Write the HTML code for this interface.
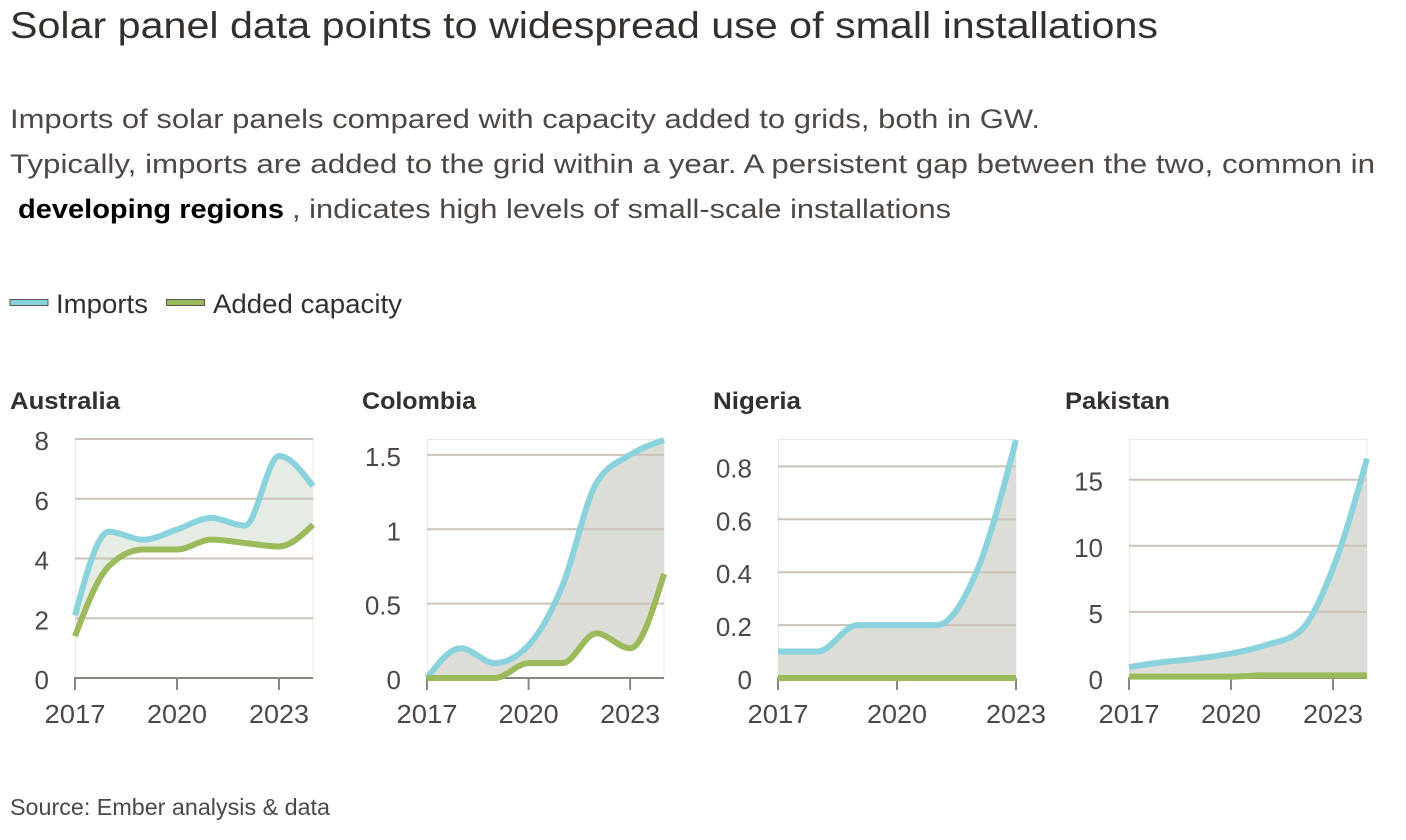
<!DOCTYPE html>
<html><head><meta charset="utf-8"><style>
html,body{margin:0;padding:0;background:#fff;}
svg{display:block;font-family:"Liberation Sans",Arial,sans-serif;}
</style></head><body>
<svg id="s" width="1406" height="840" viewBox="0 0 1406 840" xmlns="http://www.w3.org/2000/svg">
<rect width="1406" height="840" fill="#fff"/>
<text x="10" y="38" font-size="37" fill="#33302e" textLength="1148" lengthAdjust="spacingAndGlyphs">Solar panel data points to widespread use of small installations</text>
<text x="10" y="128" font-size="27" fill="#4d4845" textLength="1030" lengthAdjust="spacingAndGlyphs">Imports of solar panels compared with capacity added to grids, both in GW.</text>
<text x="10" y="173" font-size="27" fill="#4d4845" textLength="1365" lengthAdjust="spacingAndGlyphs">Typically, imports are added to the grid within a year. A persistent gap between the two, common in</text>
<text x="18" y="218" font-size="27" font-weight="bold" fill="#000" textLength="266" lengthAdjust="spacingAndGlyphs">developing regions</text>
<text x="292" y="218" font-size="27" fill="#4d4845" textLength="659" lengthAdjust="spacingAndGlyphs">, indicates high levels of small-scale installations</text>

<rect x="10" y="299.5" width="38" height="6" fill="#8ad3dd" stroke="#5a5550" stroke-width="1"/>
<text x="56" y="313" font-size="27" fill="#33302e" textLength="92" lengthAdjust="spacingAndGlyphs">Imports</text>
<rect x="166.5" y="299.5" width="38" height="6" fill="#9aba5b" stroke="#5a5550" stroke-width="1"/>
<text x="213" y="313" font-size="27" fill="#33302e" textLength="189" lengthAdjust="spacingAndGlyphs">Added capacity</text>

<g font-size="24" font-weight="bold" fill="#33302e">
<text x="10" y="409" textLength="110" lengthAdjust="spacingAndGlyphs">Australia</text>
<text x="362" y="409" textLength="114" lengthAdjust="spacingAndGlyphs">Colombia</text>
<text x="713" y="409" textLength="88" lengthAdjust="spacingAndGlyphs">Nigeria</text>
<text x="1065" y="409" textLength="105" lengthAdjust="spacingAndGlyphs">Pakistan</text>
</g>

<g fill="none" stroke="#efe8e2" stroke-width="1">
<rect x="75.5" y="439.5" width="237.5" height="238"/>
<rect x="427.5" y="439.5" width="236.5" height="238"/>
<rect x="778.5" y="439.5" width="237.5" height="238"/>
<rect x="1129.5" y="439.5" width="237.5" height="238"/>
</g>

<g id="fills"></g>

<g stroke="#ccc2b8" stroke-width="2">
<line x1="75" x2="313" y1="618.25" y2="618.25"/>
<line x1="75" x2="313" y1="558.5" y2="558.5"/>
<line x1="75" x2="313" y1="498.75" y2="498.75"/>
<line x1="75" x2="313" y1="439" y2="439"/>

<line x1="427" x2="664" y1="603.6" y2="603.6"/>
<line x1="427" x2="664" y1="529.25" y2="529.25"/>
<line x1="427" x2="664" y1="454.9" y2="454.9"/>

<line x1="778" x2="1016" y1="625.1" y2="625.1"/>
<line x1="778" x2="1016" y1="572.2" y2="572.2"/>
<line x1="778" x2="1016" y1="519.3" y2="519.3"/>
<line x1="778" x2="1016" y1="466.4" y2="466.4"/>

<line x1="1129" x2="1367" y1="611.9" y2="611.9"/>
<line x1="1129" x2="1367" y1="545.8" y2="545.8"/>
<line x1="1129" x2="1367" y1="479.7" y2="479.7"/>
</g>

<g stroke="#8c8580" stroke-width="2">
<line x1="74" x2="313" y1="678" y2="678"/>
<line x1="75" x2="75" y1="678" y2="690"/>
<line x1="177" x2="177" y1="678" y2="690"/>
<line x1="279" x2="279" y1="678" y2="690"/>

<line x1="426" x2="664" y1="678" y2="678"/>
<line x1="427" x2="427" y1="678" y2="690"/>
<line x1="528.6" x2="528.6" y1="678" y2="690"/>
<line x1="630.1" x2="630.1" y1="678" y2="690"/>

<line x1="777" x2="1016" y1="678" y2="678"/>
<line x1="778" x2="778" y1="678" y2="690"/>
<line x1="897" x2="897" y1="678" y2="690"/>
<line x1="1016" x2="1016" y1="678" y2="690"/>

<line x1="1128" x2="1367" y1="678" y2="678"/>
<line x1="1129" x2="1129" y1="678" y2="690"/>
<line x1="1231" x2="1231" y1="678" y2="690"/>
<line x1="1333" x2="1333" y1="678" y2="690"/>
</g>

<g id="lines"></g>

<g font-size="26" fill="#4d4845" text-anchor="end">
<text x="49" y="689">0</text>
<text x="49" y="629.25">2</text>
<text x="49" y="569.5">4</text>
<text x="49" y="509.75">6</text>
<text x="49" y="450">8</text>

<text x="401" y="689">0</text>
<text x="401" y="614.6">0.5</text>
<text x="401" y="540.25">1</text>
<text x="401" y="465.9">1.5</text>

<text x="752" y="689">0</text>
<text x="752" y="636.1">0.2</text>
<text x="752" y="583.2">0.4</text>
<text x="752" y="530.3">0.6</text>
<text x="752" y="477.4">0.8</text>

<text x="1103" y="689">0</text>
<text x="1103" y="622.9">5</text>
<text x="1103" y="556.8">10</text>
<text x="1103" y="490.7">15</text>
</g>

<g font-size="26" fill="#4d4845" text-anchor="middle">
<text x="75" y="723" textLength="61" lengthAdjust="spacingAndGlyphs">2017</text>
<text x="177" y="723" textLength="60" lengthAdjust="spacingAndGlyphs">2020</text>
<text x="279" y="723" textLength="60" lengthAdjust="spacingAndGlyphs">2023</text>

<text x="427" y="723" textLength="61" lengthAdjust="spacingAndGlyphs">2017</text>
<text x="528.6" y="723" textLength="60" lengthAdjust="spacingAndGlyphs">2020</text>
<text x="630.1" y="723" textLength="60" lengthAdjust="spacingAndGlyphs">2023</text>

<text x="778" y="723" textLength="61" lengthAdjust="spacingAndGlyphs">2017</text>
<text x="897" y="723" textLength="60" lengthAdjust="spacingAndGlyphs">2020</text>
<text x="1016" y="723" textLength="60" lengthAdjust="spacingAndGlyphs">2023</text>

<text x="1129" y="723" textLength="61" lengthAdjust="spacingAndGlyphs">2017</text>
<text x="1231" y="723" textLength="60" lengthAdjust="spacingAndGlyphs">2020</text>
<text x="1333" y="723" textLength="60" lengthAdjust="spacingAndGlyphs">2023</text>
</g>

<text x="10" y="815" font-size="23" fill="#4d4845" textLength="320" lengthAdjust="spacingAndGlyphs">Source: Ember analysis &amp; data</text>
</svg>
<script>
(function(){
var NS="http://www.w3.org/2000/svg";
function sg(x){return x<0?-1:1;}
function slope3(a,b,c){var h0=b[0]-a[0],h1=c[0]-b[0],s0=(b[1]-a[1])/h0,s1=(c[1]-b[1])/h1,p=(s0*h1+s1*h0)/(h0+h1);return (sg(s0)+sg(s1))*Math.min(Math.abs(s0),Math.abs(s1),0.5*Math.abs(p))||0;}
function segs(P){var n=P.length,t=[],i;for(i=1;i<n-1;i++)t[i]=slope3(P[i-1],P[i],P[i+1]);
t[0]=(3*(P[1][1]-P[0][1])/(P[1][0]-P[0][0])-t[1])/2;
t[n-1]=(3*(P[n-1][1]-P[n-2][1])/(P[n-1][0]-P[n-2][0])-t[n-2])/2;
var S=[];for(i=0;i<n-1;i++){var a=P[i],b=P[i+1],dx=(b[0]-a[0])/3;S.push([a,[a[0]+dx,a[1]+dx*t[i]],[b[0]-dx,b[1]-dx*t[i+1]],b]);}return S;}
function f(v){return v.toFixed(2);}
function pt(p){return f(p[0])+","+f(p[1]);}
function linePath(S){var d="M"+pt(S[0][0]);S.forEach(function(s){d+="C"+pt(s[1])+" "+pt(s[2])+" "+pt(s[3]);});return d;}
function areaPath(A,B){var d=linePath(A);d+="L"+pt(B[B.length-1][3]);for(var i=B.length-1;i>=0;i--){var s=B[i];d+="C"+pt(s[2])+" "+pt(s[1])+" "+pt(s[0]);}return d+"Z";}
var panels=[
 {x0:75,xr:313,bot:678,top:439,max:8,fill:"#e5ece4",
  imp:[2.1,4.9,4.63,4.97,5.36,5.1,7.43,6.42],add:[1.4,3.75,4.3,4.3,4.63,4.52,4.4,5.13]},
 {x0:427,xr:664,bot:678,top:440,max:1.6,fill:"#dcddd7",
  imp:[0,0.2,0.1,0.22,0.62,1.31,1.5,1.6],add:[0,0,0,0.1,0.1,0.3,0.2,0.7]},
 {x0:778,xr:1016,bot:678,top:440,max:0.9,fill:"#dcddd7",
  imp:[0.1,0.1,0.2,0.2,0.2,0.4,0.9],add:[0,0,0,0,0,0,0]},
 {x0:1129,xr:1367,bot:678,top:440,max:18,fill:"#dcddd7",
  imp:[0.83,1.2,1.47,1.85,2.47,3.48,8.3,16.6],add:[0.1,0.1,0.1,0.1,0.2,0.2,0.2,0.2]}
];
var fills=document.getElementById("fills"),lines=document.getElementById("lines");
panels.forEach(function(p){
 var n=p.imp.length,step=(p.xr-p.x0)/(n-1),k=(p.bot-p.top)/p.max;
 function P(arr){return arr.map(function(v,i){return [p.x0+i*step,p.bot-v*k];});}
 var A=segs(P(p.imp)),B=segs(P(p.add));
 var fa=document.createElementNS(NS,"path");fa.setAttribute("d",areaPath(A,B));fa.setAttribute("fill",p.fill);fills.appendChild(fa);
 var la=document.createElementNS(NS,"path");la.setAttribute("d",linePath(A));la.setAttribute("fill","none");la.setAttribute("stroke","#8ad3dd");la.setAttribute("stroke-width","6");la.setAttribute("stroke-linejoin","round");lines.appendChild(la);
 var lb=document.createElementNS(NS,"path");lb.setAttribute("d",linePath(B));lb.setAttribute("fill","none");lb.setAttribute("stroke","#9aba5b");lb.setAttribute("stroke-width","6");lb.setAttribute("stroke-linejoin","round");lines.appendChild(lb);
});
})();
</script>
</body></html>
